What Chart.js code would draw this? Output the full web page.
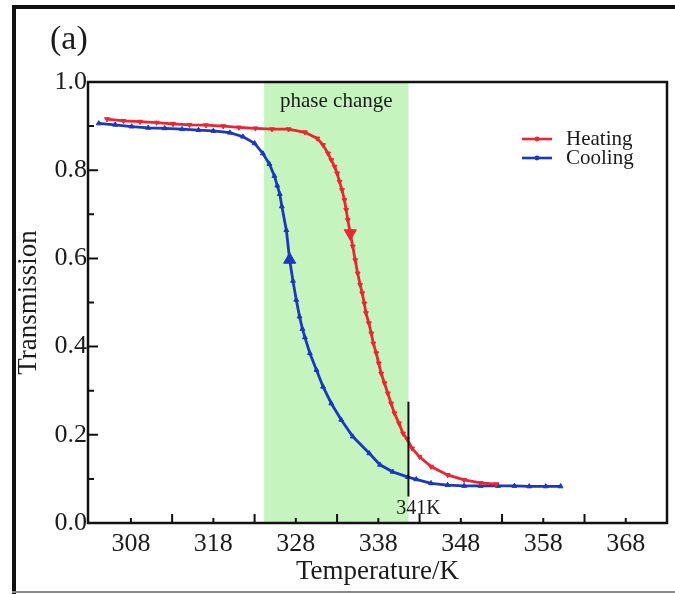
<!DOCTYPE html>
<html>
<head>
<meta charset="utf-8">
<script src="https://cdn.jsdelivr.net/npm/chart.js@4.4.0/dist/chart.umd.min.js"></script>
<style>
  html, body { margin: 0; padding: 0; background: #fff; }
  canvas { display: block; }
</style>
</head>
<body>
<canvas id="myChart" width="675" height="594"></canvas>
<script>
// data (temperature in K, transmission 0..1)
const heatingTemp = [305.1, 307.1, 309.1, 311.1, 313.1, 315.1, 317.1, 319.2, 321.1, 323.1, 325.1, 327.1,
    329.1, 330.6, 331.3, 331.9, 332.3, 332.7, 333.0, 333.3, 333.6, 333.9, 334.1, 334.3, 334.6, 334.9,
    335.2, 335.5, 335.8, 336.05, 336.3, 336.5, 336.85, 337.15, 337.4, 337.75, 338.05, 338.35, 338.75,
    339.15, 339.55, 339.95, 340.5, 341.0, 341.5, 342.1, 343.0, 344.4, 346.4, 348.4, 350.4, 352.3];
const heatingTrans = [0.916, 0.912, 0.910, 0.908, 0.905, 0.903, 0.902, 0.900, 0.897, 0.895, 0.893, 0.893,
    0.886, 0.872, 0.857, 0.838, 0.823, 0.808, 0.793, 0.774, 0.755, 0.732, 0.710, 0.687, 0.657, 0.627,
    0.596, 0.566, 0.540, 0.521, 0.498, 0.476, 0.453, 0.430, 0.407, 0.385, 0.362, 0.339, 0.317,
    0.294, 0.271, 0.249, 0.226, 0.203, 0.190, 0.169, 0.150, 0.128, 0.109, 0.098, 0.091, 0.088];

const coolingTemp = [304.1, 306.1, 308.1, 310.1, 312.1, 314.2, 316.2, 318.0, 320.0, 321.6, 323.0, 324.0,
    324.8, 325.4, 325.75, 326.05, 326.3, 326.85, 327.25, 327.65, 328.05, 328.45, 328.8, 329.1, 329.7,
    330.5, 331.3, 332.3, 333.5, 334.9, 336.9, 338.2, 339.75, 341.6, 342.6, 344.4, 346.4, 348.4, 350.4,
    352.5, 354.5, 356.3, 358.3, 360.1];
const coolingTrans = [0.906, 0.903, 0.899, 0.896, 0.895, 0.893, 0.891, 0.889, 0.885, 0.876, 0.861, 0.838,
    0.814, 0.787, 0.765, 0.746, 0.718, 0.664, 0.597, 0.549, 0.506, 0.468, 0.440, 0.421, 0.385,
    0.347, 0.309, 0.271, 0.234, 0.196, 0.158, 0.132, 0.116, 0.104, 0.099, 0.090, 0.086, 0.084, 0.084,
    0.084, 0.084, 0.083, 0.083, 0.083];

const seriesLabels = ['Heating', 'Cooling'];
const seriesColors = ['#ee2530', '#1a38c2'];

// direction arrows on each branch
const arrowTemp = [334.6, 327.25];
const arrowTrans = [0.657, 0.597];

const xTickValues = [308, 318, 328, 338, 348, 358, 368];
const yTickValues = [0, 0.2, 0.4, 0.6, 0.8, 1.0];

const phaseRange = [324.15, 341.65];
const phaseLabel = 'phase change';
const markerTemp = 341.65;
const markerTrans = [0.06, 0.275];
const markerLabel = '341K';

const serif = "'Liberation Serif', 'DejaVu Serif', serif";
const ink = '#1b1b1b';

function points(xs, ys) {
    return xs.map((t, i) => ({x: t, y: ys[i]}));
}

const whiteBg = {
    id: 'whiteBg',
    beforeDraw(chart) {
        const ctx = chart.ctx;
        ctx.save();
        ctx.fillStyle = '#fff';
        ctx.fillRect(0, 0, chart.width, chart.height);
        ctx.restore();
    }
};

// green band + its label, under the curves
const phaseBand = {
    id: 'phaseBand',
    beforeDatasetsDraw(chart) {
        const {ctx, chartArea: a, scales: {x}} = chart;
        const x0 = x.getPixelForValue(phaseRange[0]);
        const x1 = x.getPixelForValue(phaseRange[1]);
        ctx.save();
        ctx.fillStyle = '#c6f4bf';
        ctx.fillRect(x0, a.top, x1 - x0, a.bottom - a.top);
        ctx.fillStyle = ink;
        ctx.font = '21px ' + serif;
        ctx.textAlign = 'center';
        ctx.textBaseline = 'middle';
        ctx.fillText(phaseLabel, (x0 + x1) / 2, a.top + 19);
        ctx.restore();
    }
};

const frameAndTicks = {
    id: 'frameAndTicks',
    afterDraw(chart) {
        const {ctx, chartArea: a, scales: {x, y}} = chart;
        ctx.save();
        ctx.strokeStyle = '#111';

        // 341 K marker
        const mx = x.getPixelForValue(markerTemp);
        ctx.lineWidth = 2;
        ctx.beginPath();
        ctx.moveTo(mx, y.getPixelForValue(markerTrans[1]));
        ctx.lineTo(mx, y.getPixelForValue(markerTrans[0]));
        ctx.stroke();
        ctx.fillStyle = ink;
        ctx.font = '20px ' + serif;
        ctx.textAlign = 'center';
        ctx.textBaseline = 'middle';
        ctx.fillText(markerLabel, mx + 10, a.bottom - 14);

        // inward tick marks
        ctx.lineWidth = 2;
        ctx.beginPath();
        for (let t = 303; t <= 373; t += 5) {
            const px = x.getPixelForValue(t);
            if (px < a.left + 3 || px > a.right - 3) continue;
            const len = (t - 303) % 10 === 0 ? 9 : 5;
            ctx.moveTo(px, a.bottom);
            ctx.lineTo(px, a.bottom - len);
        }
        for (let i = 1; i < 10; i++) {
            const py = y.getPixelForValue(i / 10);
            const len = i % 2 === 0 ? 10 : 6;
            ctx.moveTo(a.left, py);
            ctx.lineTo(a.left + len, py);
        }
        ctx.stroke();

        // plot frame
        ctx.lineWidth = 2.5;
        ctx.strokeRect(a.left, a.top, a.right - a.left, a.bottom - a.top);

        // outer figure frame
        ctx.lineWidth = 4;
        ctx.beginPath();
        ctx.moveTo(14, 594);
        ctx.lineTo(14, 7);
        ctx.lineTo(675, 7);
        ctx.stroke();
        ctx.strokeStyle = '#888';
        ctx.lineWidth = 2;
        ctx.beginPath();
        ctx.moveTo(12, 592);
        ctx.lineTo(675, 592);
        ctx.stroke();

        // panel letter
        ctx.fillStyle = ink;
        ctx.font = '34px ' + serif;
        ctx.textAlign = 'left';
        ctx.textBaseline = 'middle';
        ctx.fillText('(a)', 50, 40);

        // legend
        ctx.font = '21px ' + serif;
        chart.data.datasets.slice(0, 2).forEach((ds, i) => {
            const ly = 139 + i * 19;
            ctx.strokeStyle = ds.borderColor;
            ctx.lineWidth = 2.6;
            ctx.beginPath();
            ctx.moveTo(522, ly);
            ctx.lineTo(552, ly);
            ctx.stroke();
            ctx.fillStyle = ds.borderColor;
            ctx.beginPath();
            ctx.arc(537, ly, 2.4, 0, Math.PI * 2);
            ctx.fill();
            ctx.fillStyle = ink;
            ctx.fillText(ds.label, 566, ly);
        });
        ctx.restore();
    }
};

const curveStyle = {
    showLine: true,
    borderWidth: 2.8,
    pointStyle: 'triangle',
    pointRadius: 2.8,
    pointBorderWidth: 1,
    tension: 0
};

const config = {
    type: 'scatter',
    data: {
        datasets: [
            Object.assign({
                label: seriesLabels[0],
                data: points(heatingTemp, heatingTrans),
                borderColor: seriesColors[0],
                backgroundColor: seriesColors[0],
                pointRotation: 180
            }, curveStyle),
            Object.assign({
                label: seriesLabels[1],
                data: points(coolingTemp, coolingTrans),
                borderColor: seriesColors[1],
                backgroundColor: seriesColors[1],
                pointRotation: 0
            }, curveStyle),
            {
                label: 'heating arrow',
                data: [{x: arrowTemp[0], y: arrowTrans[0]}],
                showLine: false,
                pointStyle: 'triangle',
                pointRotation: 180,
                pointRadius: 7,
                borderColor: seriesColors[0],
                backgroundColor: seriesColors[0]
            },
            {
                label: 'cooling arrow',
                data: [{x: arrowTemp[1], y: arrowTrans[1]}],
                showLine: false,
                pointStyle: 'triangle',
                pointRotation: 0,
                pointRadius: 7,
                borderColor: seriesColors[1],
                backgroundColor: seriesColors[1]
            }
        ]
    },
    options: {
        responsive: false,
        animation: false,
        devicePixelRatio: 1,
        layout: {
            padding: {top: 82, right: 5, left: 0, bottom: 0}
        },
        plugins: {
            legend: {display: false},
            tooltip: {enabled: false}
        },
        scales: {
            x: {
                type: 'linear',
                min: 302.8,
                max: 373,
                afterBuildTicks: function (scale) {
                    scale.ticks = xTickValues.map(v => ({value: v}));
                },
                afterFit: function (scale) {
                    scale.height = 71;
                },
                grid: {display: false, drawTicks: false},
                border: {display: false},
                ticks: {
                    padding: 6,
                    color: ink,
                    font: {family: serif, size: 26},
                    callback: v => String(v)
                },
                title: {
                    display: true,
                    text: 'Temperature/K',
                    color: ink,
                    font: {family: serif, size: 27},
                    padding: {top: 0, bottom: 6}
                }
            },
            y: {
                type: 'linear',
                min: 0,
                max: 1,
                afterBuildTicks: function (scale) {
                    scale.ticks = yTickValues.map(v => ({value: v}));
                },
                afterFit: function (scale) {
                    scale.width = 88;
                },
                grid: {display: false, drawTicks: false},
                border: {display: false},
                ticks: {
                    padding: 1,
                    color: ink,
                    font: {family: serif, size: 26},
                    callback: v => v.toFixed(1)
                },
                title: {
                    display: true,
                    text: 'Transmission',
                    color: ink,
                    font: {family: serif, size: 27},
                    padding: {top: 13, bottom: 0}
                }
            }
        }
    },
    plugins: [whiteBg, phaseBand, frameAndTicks]
};

new Chart(document.getElementById('myChart'), config);
</script>
</body>
</html>
